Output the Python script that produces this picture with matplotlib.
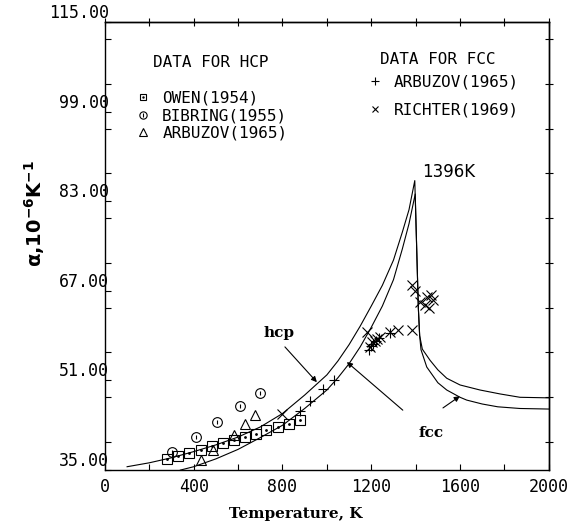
import matplotlib
matplotlib.use('Agg')
import matplotlib.pyplot as plt
from matplotlib.ticker import MultipleLocator, FormatStrFormatter

# expansion curves (T in K, alpha in 1e-6/K)
hcp_t = [100, 200, 300, 400, 500, 600, 700, 800, 900, 1000, 1050, 1100, 1150, 1200,
         1250, 1300, 1340, 1370, 1396, 1405, 1412, 1418, 1430, 1465, 1500, 1540, 1600,
         1690, 1780, 1870, 2000]
hcp_alpha = [35.6, 36.3, 37.2, 38.3, 39.5, 40.9, 42.7, 45.1, 48.4, 52.0, 54.5, 57.4,
             60.7, 64.3, 68.0, 72.5, 77.5, 81.5, 86.7, 74.0, 64.0, 59.0, 56.6, 54.6,
             52.9, 51.4, 50.2, 49.3, 48.6, 48.0, 47.9]

fcc_t = [340, 400, 500, 600, 700, 800, 900, 1000, 1050, 1100, 1150, 1200, 1250, 1300,
         1340, 1370, 1398, 1405, 1412, 1418, 1424, 1450, 1500, 1540, 1600, 1630, 1700,
         1770, 1870, 2000]
fcc_alpha = [35.0, 35.6, 37.0, 38.7, 40.8, 43.0, 46.0, 49.3, 51.5, 54.0, 57.0, 60.5,
             64.3, 69.0, 74.5, 79.0, 84.3, 74.0, 64.0, 59.0, 56.5, 53.4, 50.6, 49.3,
             48.0, 47.5, 46.8, 46.3, 46.0, 45.9]

# measured points
owen_t = [280, 330, 380, 433, 481, 533, 581, 631, 680, 728, 780, 830, 878]
owen_alpha = [36.9, 37.5, 38.1, 38.6, 39.3, 39.8, 40.4, 40.9, 41.4, 42.1, 42.7, 43.2, 43.9]

bibring_t = [303, 411, 505, 608, 698]
bibring_alpha = [38.3, 40.9, 43.5, 46.4, 48.7]

arbuzov_hcp_t = [432, 486, 583, 633, 678]
arbuzov_hcp_alpha = [36.8, 38.6, 41.2, 43.2, 44.8]

arbuzov_fcc_t = [878, 923, 982, 1032, 1190, 1200, 1210, 1222, 1235, 1284]
arbuzov_fcc_alpha = [45.6, 47.3, 49.5, 51.0, 56.5, 57.2, 57.6, 58.0, 58.5, 59.4]

richter_t = [800, 1180, 1195, 1205, 1215, 1225, 1240, 1284, 1321, 1385, 1385, 1395,
             1420, 1440, 1450, 1460, 1470, 1478]
richter_alpha = [45.1, 59.6, 57.0, 57.8, 58.0, 58.4, 58.8, 59.6, 60.0, 60.0, 68.0, 67.0,
                 65.0, 64.5, 66.0, 64.0, 66.3, 65.4]

x_ticks = [0, 400, 800, 1200, 1600, 2000]
y_ticks = [35, 51, 67, 83, 99, 115]

MONO = 'DejaVu Sans Mono'


def draw_data(ax):
    line_style = dict(color='black', lw=0.8)
    ax.plot(hcp_t, hcp_alpha, **line_style)
    ax.plot(fcc_t, fcc_alpha, **line_style)

    open_style = dict(ls='none', color='black', mfc='none', mew=0.8)
    owen_sq, = ax.plot(owen_t, owen_alpha, marker='s', ms=6.5, **open_style)
    owen_dot, = ax.plot(owen_t, owen_alpha, marker='.', ms=2, ls='none', color='black')
    bib_o, = ax.plot(bibring_t, bibring_alpha, marker='o', ms=7, **open_style)
    bib_bar, = ax.plot(bibring_t, bibring_alpha, marker='|', ms=3.5, **open_style)
    arb_tri, = ax.plot(arbuzov_hcp_t, arbuzov_hcp_alpha, marker='^', ms=7, **open_style)
    arb_plus, = ax.plot(arbuzov_fcc_t, arbuzov_fcc_alpha, marker='+', ms=7, **open_style)
    ric_x, = ax.plot(richter_t, richter_alpha, marker='x', ms=6.5, **open_style)

    return [(owen_sq, owen_dot), (bib_o, bib_bar), arb_tri], [arb_plus, ric_x]


def add_legends(ax, hcp_handles, fcc_handles):
    prop = dict(family=MONO, size=11.5)
    common = dict(loc='upper left', frameon=False, borderpad=0, borderaxespad=0,
                  handlelength=1.0, handletextpad=0.7, markerscale=0.75,
                  prop=prop, title_fontproperties=prop)

    hcp = ax.legend(hcp_handles, ['OWEN(1954)', 'BIBRING(1955)', 'ARBUZOV(1965)'],
                    title='DATA FOR HCP\n', bbox_to_anchor=(0.068, 0.926),
                    labelspacing=0.17, **common)
    ax.add_artist(hcp)

    ax.text(0.75, 0.917, 'DATA FOR FCC', transform=ax.transAxes, ha='center',
            va='center', **prop)
    ax.legend(fcc_handles, ['ARBUZOV(1965)', 'RICHTER(1969)'],
              bbox_to_anchor=(0.59, 0.883), labelspacing=0.8, **common)


def annotate(ax):
    arrow = dict(arrowstyle='-|>', color='black', lw=0.8,
                 mutation_scale=8, shrinkA=0, shrinkB=0)
    bold_serif = dict(family='DejaVu Serif', weight='bold', size=11)

    ax.text(784, 59.5, 'hcp', ha='center', va='center', **bold_serif)
    ax.annotate('', xy=(955, 50.7), xytext=(811, 57.0), arrowprops=arrow)

    ax.text(1468, 41.6, 'fcc', ha='center', va='center', **bold_serif)
    ax.annotate('', xy=(1090, 54.3), xytext=(1342, 45.7), arrowprops=arrow)
    ax.annotate('', xy=(1599, 48.2), xytext=(1523, 46.1), arrowprops=arrow)

    ax.text(1550, 88.3, '1396K', ha='center', va='center', size=12)


def setup_axes(ax):
    ax.set_xlim(0, 2000)
    ax.set_ylim(35, 115)

    ax.set_xticks(x_ticks)
    ax.xaxis.set_minor_locator(MultipleLocator(200))
    ax.set_yticks(y_ticks)
    ax.yaxis.set_minor_locator(MultipleLocator(8))
    ax.yaxis.set_major_formatter(FormatStrFormatter('%.2f'))

    ax.tick_params(which='both', direction='in', length=4, width=0.8,
                   labelsize=12, labelfontfamily=MONO)
    ax.tick_params(axis='x', pad=6)
    ax.tick_params(axis='y', pad=-3)
    for label in ax.get_yticklabels():
        label.set_verticalalignment('bottom')

    for spine in ax.spines.values():
        spine.set_linewidth(1.0)

    # top and right edges: ticks crossing the frame, no labels
    top = ax.secondary_xaxis('top')
    top.xaxis.set_major_locator(MultipleLocator(200))
    top.tick_params(direction='inout', length=6, width=0.8, labeltop=False)
    top.spines['top'].set_linewidth(1.0)

    right = ax.secondary_yaxis('right')
    right.yaxis.set_major_locator(MultipleLocator(8))
    right.tick_params(direction='inout', length=6, width=0.8, labelright=False)
    right.spines['right'].set_linewidth(1.0)


def main():
    plt.rcParams['mathtext.default'] = 'bf'

    fig = plt.figure(figsize=(5.67, 5.27), dpi=100)
    ax = fig.add_axes([0.185, 0.108, 0.783, 0.85])

    hcp_handles, fcc_handles = draw_data(ax)
    add_legends(ax, hcp_handles, fcc_handles)
    annotate(ax)
    setup_axes(ax)

    fig.text(296 / 567, 1 - 514 / 527, 'Temperature, K', ha='center', va='center',
             family='DejaVu Serif', weight='bold', size=11)
    fig.text(35 / 567, 1 - 214 / 527, 'α,10$^{-6}$K$^{-1}$', ha='center', va='center',
             rotation=90, weight='bold', size=14)

    fig.savefig('out.png', dpi=100)


if __name__ == '__main__':
    main()
